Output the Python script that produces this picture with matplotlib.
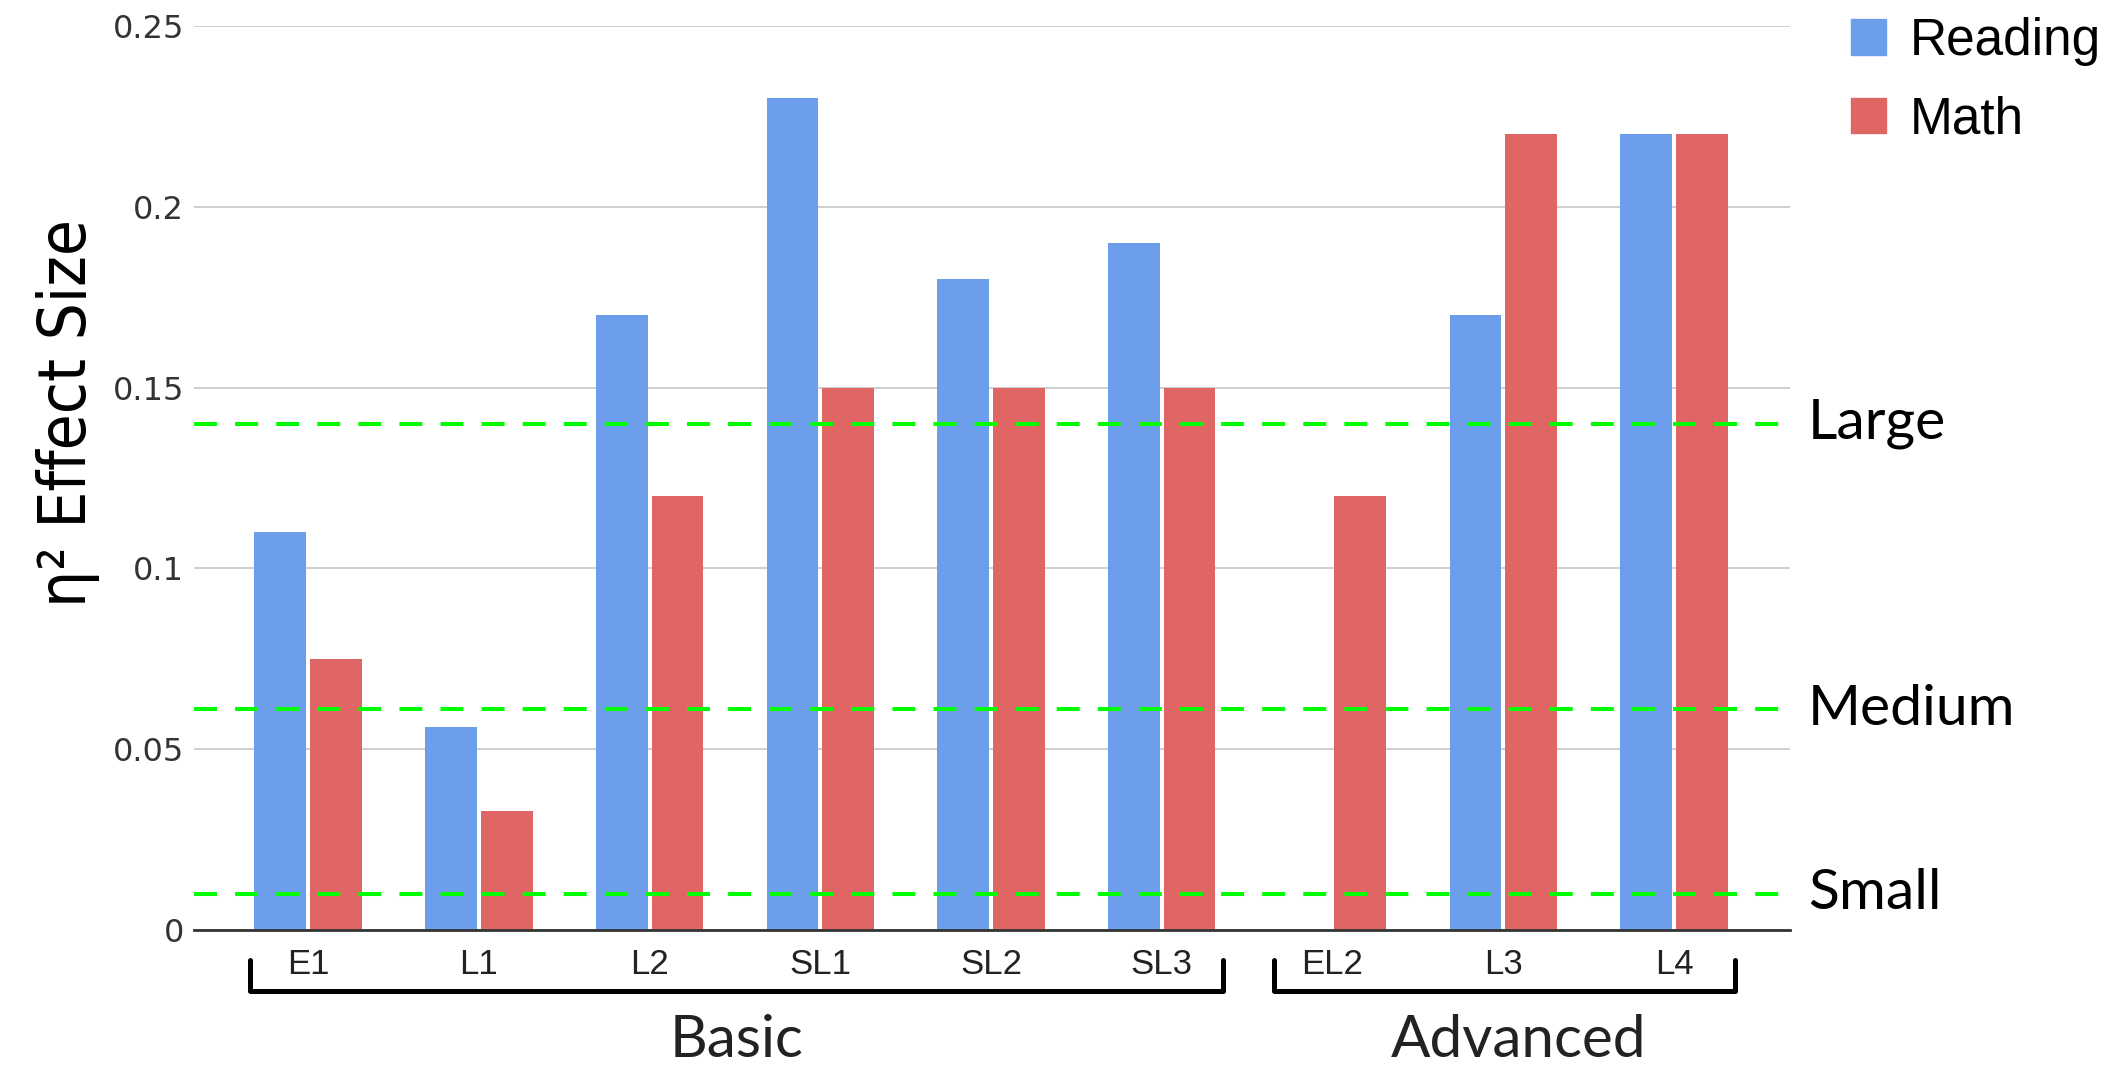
import numpy as np
import matplotlib
matplotlib.use('Agg')
import matplotlib.pyplot as plt
from matplotlib import font_manager
from matplotlib.patches import Patch

# テスト項目と効果量 (η²)
tests = ['E1', 'L1', 'L2', 'SL1', 'SL2', 'SL3', 'EL2', 'L3', 'L4']
reading = [0.11, 0.056, 0.17, 0.23, 0.18, 0.19, 0.0, 0.17, 0.22]
math_scores = [0.075, 0.033, 0.12, 0.15, 0.15, 0.15, 0.12, 0.22, 0.22]

# 効果量の目安ライン
thresholds = [0.01, 0.061, 0.14]
threshold_names = ['Small', 'Medium', 'Large']

# テストのグループ分け (開始index, 終了index)
groups = ['Basic', 'Advanced']
group_spans = [(0, 5), (6, 8)]

yticks = [0, 0.05, 0.1, 0.15, 0.2, 0.25]
ytick_labels = ['0', '0.05', '0.1', '0.15', '0.2', '0.25']

# 色
c_reading = '#6d9eeb'
c_math = '#e06666'
c_green = '#00ff00'

# フォント
installed = {f.name for f in font_manager.fontManager.ttflist}
narrow = 'Liberation Sans Narrow' if 'Liberation Sans Narrow' in installed else 'DejaVu Sans'
arial = 'Liberation Sans'
humanist = 'Lato'

fig = plt.figure(figsize=(21.23, 10.65), dpi=100)
ax = fig.add_axes([0.0914, 0.1268, 0.7518, 0.8488])

x = np.arange(len(tests))
w = 0.303
off = 0.163
ax.bar(x - off, reading, w, color=c_reading, zorder=3)
ax.bar(x + off, math_scores, w, color=c_math, zorder=3)

ax.set_xlim(-0.668, 8.68)
ax.set_ylim(0, 0.25)

# グリッドと軸
ax.set_yticks(yticks)
ax.set_yticklabels(ytick_labels, fontfamily='DejaVu Sans', fontsize=23, color='#333333')
ax.set_xticks(x)
ax.set_xticklabels(tests, fontfamily=arial, fontsize=25, color='#222222')
ax.tick_params(axis='both', length=0)
ax.tick_params(axis='y', pad=7)
ax.tick_params(axis='x', pad=13)
ax.grid(axis='y', color='#cccccc', lw=1.3, zorder=0)
for s in ['top', 'right', 'left']:
    ax.spines[s].set_visible(False)
ax.spines['bottom'].set_color('#333333')
ax.spines['bottom'].set_linewidth(2.0)
ax.spines['bottom'].set_zorder(4)

# 目安ライン
for t, name in zip(thresholds, threshold_names):
    ax.axhline(t, color=c_green, lw=2.9, linestyle=(0, (5.7, 4.5)), zorder=5)
    ax.text(1.0113, t, name, transform=ax.get_yaxis_transform(), ha='left', va='center',
            fontfamily=humanist, fontsize=41, color='black', clip_on=False)

# グループの括弧とラベル
trans = ax.get_xaxis_transform()
y_top, y_bot = -0.033, -0.068
label_shift = [0.0, 0.08]
for name, (i0, i1), dx in zip(groups, group_spans, label_shift):
    xl, xr = i0 - 0.34, i1 + 0.36
    ax.plot([xl, xl, xr, xr], [y_top, y_bot, y_bot, y_top], transform=trans, color='black',
            lw=3.6, solid_joinstyle='round', solid_capstyle='round', clip_on=False)
    ax.text((xl + xr) / 2 + dx, -0.122, name, transform=trans, ha='center', va='center',
            fontfamily=humanist, fontsize=42, color='#222222')

# 縦軸ラベル
fig.text(0.032, 0.612, 'η² Effect Size', rotation=90, ha='center', va='center',
         fontfamily=narrow, fontstretch='condensed', fontsize=47, color='black')

# 凡例
handles = [Patch(color=c_reading, label='Reading'), Patch(color=c_math, label='Math')]
fig.legend(handles=handles, loc='upper left', bbox_to_anchor=(0.872, 0.984), frameon=False,
           prop={'family': arial, 'size': 37}, handlelength=0.68, handleheight=0.68,
           handletextpad=0.45, labelspacing=0.58, borderpad=0, borderaxespad=0)

fig.savefig('out.png', dpi=100, facecolor='white')
